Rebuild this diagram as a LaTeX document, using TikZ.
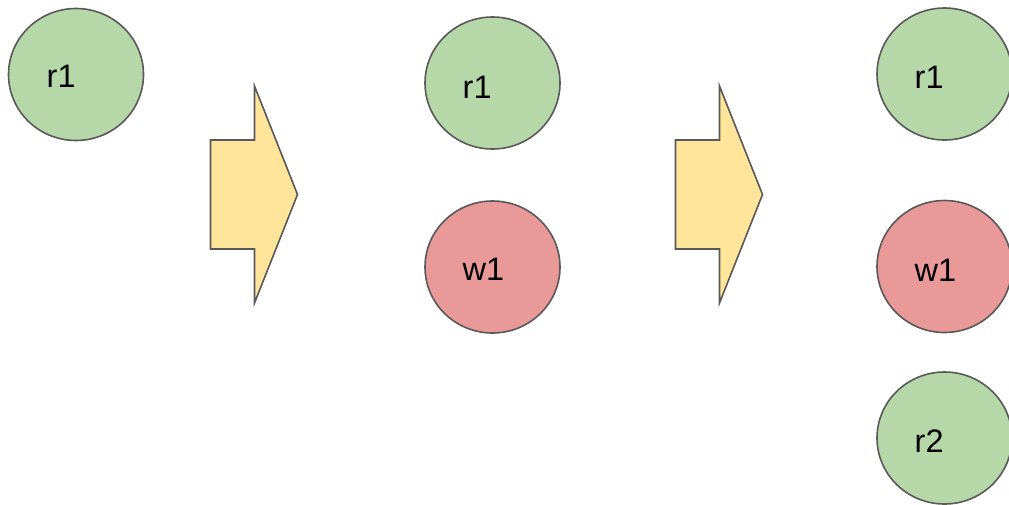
\documentclass[tikz,border=0pt]{standalone}
\usepackage{fontspec}
\setmainfont{Liberation Sans}
\usetikzlibrary{shapes.geometric}
\definecolor{rgreen}{HTML}{B6D7A8}
\definecolor{wred}{HTML}{EA9999}
\definecolor{ayellow}{HTML}{FFE599}
\definecolor{edge}{HTML}{595959}
\tikzset{
  ball/.style={ellipse, draw=edge, line width=1.6pt, minimum width=135pt, minimum height=132pt, inner sep=0pt},
  rball/.style={ball, fill=rgreen},
  wball/.style={ball, fill=wred},
  lbl/.style={anchor=base west, inner sep=0pt, font=\fontsize{32.5}{38}\selectfont},
  bigarrow/.style={draw=edge, fill=ayellow, line width=1.6pt, line join=miter}
}
\begin{document}
\begin{tikzpicture}[x=1pt,y=-1pt]
\useasboundingbox (0,0) rectangle (1009,504);
% stage 1
\node[rball] (a1) at (76,74.5) {};
\node[lbl] (ta1) at (46.5,87.5) {r1};
% arrow 1
\draw[bigarrow] (210.5,140) -- (254.5,140) -- (254.5,86) -- (297.5,194.5) -- (254.5,303) -- (254.5,249) -- (210.5,249) -- cycle;
% stage 2
\node[rball] (b1) at (492.5,83) {};
\node[lbl] (tb1) at (462.5,98.5) {r1};
\node[wball] (b2) at (492.5,267) {};
\node[lbl] (tb2) at (462.5,280) {w1};
% arrow 2
\draw[bigarrow] (675.5,140) -- (719.5,140) -- (719.5,86) -- (762.5,194.5) -- (719.5,303) -- (719.5,249) -- (675.5,249) -- cycle;
% stage 3
\node[rball] (c1) at (944.5,74) {};
\node[lbl] (tc1) at (914.5,88) {r1};
\node[wball] (c2) at (944.5,266.5) {};
\node[lbl] (tc2) at (914.5,281.5) {w1};
\node[rball] (c3) at (944.5,438) {};
\node[lbl] (tc3) at (914.5,452.5) {r2};
\end{tikzpicture}
\end{document}
